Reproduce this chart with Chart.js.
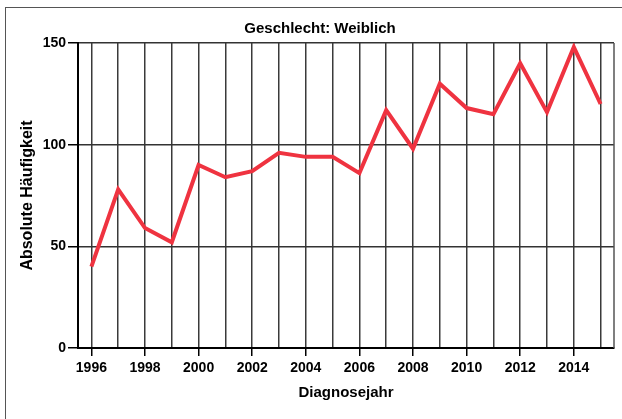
<!DOCTYPE html>
<html>
<head>
<meta charset="utf-8">
<script src="https://cdn.jsdelivr.net/npm/chart.js@4"></script>
<style>
  html, body { margin: 0; padding: 0; background: #fff; overflow: hidden; }
  #frame { position: absolute; left: 5px; top: 7px; width: 700px; height: 500px;
           border-left: 1px solid #555; border-top: 1px solid #555; }
  #chart { position: absolute; left: 0; top: 0; }
</style>
</head>
<body>
<div id="frame"></div>
<canvas id="chart" width="622" height="419"></canvas>
<script>
// Diagnosejahr / absolute Häufigkeit (weiblich)
const years = ['1996', '1997', '1998', '1999', '2000', '2001', '2002', '2003', '2004', '2005',
               '2006', '2007', '2008', '2009', '2010', '2011', '2012', '2013', '2014', '2015'];
const counts = [40, 78, 59, 52, 90, 84, 87, 96, 94, 94, 86, 117, 98, 130, 118, 115, 140, 116, 148, 120];
const shownYears = ['1996', '1998', '2000', '2002', '2004', '2006', '2008', '2010', '2012', '2014'];
const yTicks = [0, 50, 100, 150];

const font = 'Liberation Sans, Arial, sans-serif';

// right border of the plot area (top one is the 150 grid line)
const plotFrame = {
  id: 'plotFrame',
  beforeDatasetsDraw(chart) {
    const { ctx, chartArea: a } = chart;
    ctx.save();
    ctx.strokeStyle = '#555';
    ctx.lineWidth = 1.5;
    ctx.beginPath();
    ctx.moveTo(a.right, a.top);
    ctx.lineTo(a.right, a.bottom);
    ctx.stroke();
    ctx.restore();
  }
};

const chart = new Chart(document.getElementById('chart').getContext('2d'), {
  type: 'line',
  data: {
    labels: years,
    datasets: [{
      label: 'Absolute Häufigkeit',
      data: counts,
      borderColor: '#ef3340',
      borderWidth: 4,
      pointRadius: 0,
      tension: 0,
      fill: false
    }]
  },
  options: {
    responsive: false,
    animation: false,
    layout: { padding: { left: 26, right: 8, top: 20, bottom: 0 } },
    plugins: {
      legend: { display: false },
      tooltip: { enabled: false },
      title: {
        display: true,
        text: 'Geschlecht: Weiblich',
        color: '#000',
        font: { family: font, size: 15, weight: 'bold' },
        padding: { top: 0, bottom: 5 }
      }
    },
    scales: {
      x: {
        type: 'category',
        offset: true,
        afterFit: s => { s.height = 71; },
        grid: {
          offset: false,
          color: '#3a3a3a',
          lineWidth: 1.5,
          tickLength: 8,
          tickColor: c => shownYears.includes(years[c.index]) ? '#000' : 'rgba(0,0,0,0)'
        },
        border: { color: '#000', width: 2 },
        ticks: {
          autoSkip: false,
          maxRotation: 0,
          padding: 4,
          color: '#000',
          font: { family: font, size: 14, weight: 'bold' },
          callback: function (v) {
            const y = this.getLabelForValue(v);
            return shownYears.includes(y) ? y : '';
          }
        },
        title: {
          display: true,
          text: 'Diagnosejahr',
          color: '#000',
          font: { family: font, size: 15, weight: 'bold' },
          padding: { top: 0, bottom: 17 }
        }
      },
      y: {
        min: yTicks[0],
        max: yTicks[yTicks.length - 1],
        afterFit: s => { s.width = 52; },
        afterBuildTicks: s => { s.ticks = yTicks.map(v => ({ value: v })); },
        grid: { color: '#333', lineWidth: 1.5, tickLength: 10, tickColor: '#000' },
        border: { color: '#000', width: 2 },
        ticks: {
          padding: 2,
          color: '#000',
          font: { family: font, size: 14, weight: 'bold' }
        },
        title: {
          display: true,
          text: 'Absolute Häufigkeit',
          color: '#000',
          font: { family: font, size: 16, weight: 'bold' },
          padding: { top: -8, bottom: 0 }
        }
      }
    }
  },
  plugins: [plotFrame]
});
</script>
</body>
</html>
